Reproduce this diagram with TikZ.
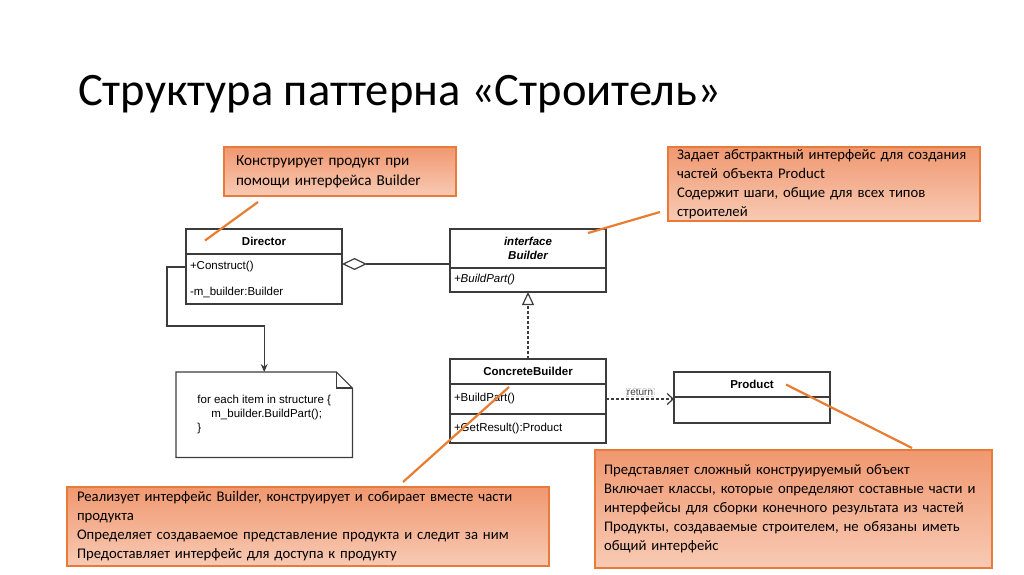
\documentclass[tikz,border=0pt]{standalone}
\usepackage{fontspec}
\setmainfont{Carlito}
\newfontfamily\umlfont{Liberation Sans}
\usepackage{xcolor}
\usetikzlibrary{arrows.meta,positioning,shapes}

\definecolor{calltop}{RGB}{240,152,112}
\definecolor{callbot}{RGB}{248,202,180}
\definecolor{callrim}{RGB}{232,122,58}
\definecolor{pointerorange}{RGB}{232,125,50}
\definecolor{umlgray}{RGB}{60,60,60}

\begin{document}
\begin{tikzpicture}[
        x=1pt, y=-1pt,
        callout/.style={rectangle, draw=callrim, line width=2pt, top color=calltop, bottom color=callbot, anchor=north west, outer sep=0pt, align=left, inner xsep=9pt, inner ysep=0pt, font=\fontsize{14.7}{19}\selectfont},
        umlbox/.style={rectangle, draw=umlgray, line width=1.2pt, fill=white, minimum width=156pt, outer sep=0pt, inner xsep=4pt, inner ysep=0pt, font=\umlfont\fontsize{11.5}{14}\selectfont},
        umlhead/.style={umlbox, align=center, font=\umlfont\bfseries\fontsize{11.5}{14}\selectfont},
        umlops/.style={umlbox, text width=148pt, align=left},
        link/.style={draw=umlgray, line width=1.2pt},
        pointer/.style={draw=pointerorange, line width=2.2pt}
    ]
        \useasboundingbox (0,0) rectangle (1024,574);

        % Title
        \node[anchor=base west, inner sep=0pt, font=\fontsize{46.5}{50}\selectfont] (title) at (78,105) {Структура паттерна «Строитель»};

        % Classes
        \node[umlhead, minimum height=25pt, anchor=north west] (dirhead) at (186,229) {Director};
        \node[umlops, minimum height=50pt, below=0pt of dirhead] (dirops) {+Construct()\\[12pt]-m\_builder:Builder};
        \node[umlhead, minimum height=39pt, anchor=north west] (bldhead) at (450,229) {\itshape interface\\\itshape Builder};
        \node[umlops, minimum height=24pt, below=0pt of bldhead] (bldops) {\itshape +BuildPart()};
        \node[umlhead, minimum height=25pt, below=67pt of bldops] (cbhead) {ConcreteBuilder};
        \node[umlops, minimum height=30pt, below=0pt of cbhead] (cbop1) {+BuildPart()};
        \node[umlops, minimum height=29pt, below=0pt of cbop1] (cbop2) {+GetResult():Product};
        \node[umlhead, minimum height=25pt, anchor=north west] (prodhead) at (674,372) {Product};
        \node[umlops, minimum height=26pt, below=0pt of prodhead] (prodops) {};

        % Note
        \node[minimum width=176pt, minimum height=85pt, anchor=north west, align=left, inner sep=0pt, font=\umlfont\fontsize{11.5}{14}\selectfont] (note) at (176,372) {for each item in structure \{\\\hspace{14pt}m\_builder.BuildPart();\\\}};
        \draw[link] (note.north west) -- ([shift={(-16,0)}]note.north east) -- ([shift={(0,16)}]note.north east) -- (note.south east) -- (note.south west) -- cycle;
        \draw[link] ([shift={(-16,0)}]note.north east) |- ([shift={(0,16)}]note.north east);

        % Paths
        \coordinate (aggstart) at ([shift={(0,-15)}]dirops.east);
        \draw[link, {Diamond[open, length=25pt, width=12pt]}-] (aggstart) -- (aggstart -| bldhead.west);
        \draw[link, -{Stealth[length=8pt, width=7pt]}] ([shift={(0,-12)}]dirops.west) -- ++(-19,0) -- ++(0,59) -| (note.north);
        \draw[link, dash pattern=on 3pt off 2pt, -{Triangle[open, length=13pt, width=12pt]}] (cbhead.north) -- (bldops.south);
        \draw[link, dash pattern=on 3pt off 2pt, -{Straight Barb[length=6pt, width=11pt]}] (cbop1.east) -- (cbop1.east -| prodops.west) node[midway, above=2pt, draw=gray!30, line width=0.6pt, inner sep=1pt, text=umlgray, font=\umlfont\fontsize{10}{12}\selectfont] {return};

        % Callouts
        \node[callout, text width=208pt, minimum height=49pt, inner xsep=12pt, font=\fontsize{15.2}{20}\selectfont] (c1) at (224,147) {Конструирует продукт при\\помощи интерфейса Builder};
        \node[callout, text width=294pt, minimum height=74pt] (c2) at (668,147) {Задает абстрактный интерфейс для создания\\частей объекта Product\\Содержит шаги, общие для всех типов\\строителей};
        \node[callout, text width=462pt, minimum height=79pt, inner xsep=10pt] (c3) at (67,487) {Реализует интерфейс Builder, конструирует и собирает вместе части\\продукта\\Определяет создаваемое представление продукта и следит за ним\\Предоставляет интерфейс для доступа к продукту};
        \node[callout, text width=379pt, minimum height=118pt] (c4) at (595,450) {Представляет сложный конструируемый объект\\Включает классы, которые определяют составные части и\\интерфейсы для сборки конечного результата из частей\\Продукты, создаваемые строителем, не обязаны иметь\\общий интерфейс};

        \draw[pointer] ([shift={(34,6)}]c1.south west) -- ([shift={(19,-1)}]dirhead.west);
        \draw[pointer] ([shift={(-8,-9)}]c2.south west) -- ([shift={(-18,4)}]bldhead.north east);
        \draw[pointer] ([shift={(95,-5)}]c3.north) -- ([shift={(-19,3)}]cbop1.north);
        \draw[pointer] ([shift={(34,0)}]prodhead.center) -- ([shift={(-80,-2)}]c4.north east);
    \end{tikzpicture}
\end{document}
